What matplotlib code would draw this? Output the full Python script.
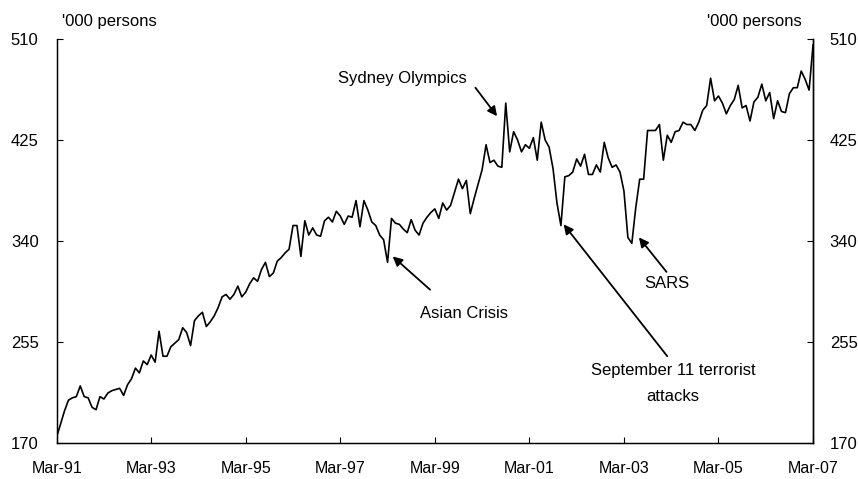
import numpy as np
import matplotlib
matplotlib.use("Agg")
import matplotlib.pyplot as plt

# Monthly short-term visitor arrivals, '000 persons, Mar-91 .. Mar-07
arrivals = [
    175, 186, 197, 206, 208, 209, 218, 209, 208, 200, 198, 209,
    207, 212, 214, 215, 216, 210, 219, 224, 233, 229, 239, 236,
    244, 238, 264, 243, 243, 251, 254, 257, 267, 263, 252, 273,
    277, 280, 268, 272, 277, 284, 293, 295, 291, 295, 302, 293,
    297, 304, 309, 306, 316, 322, 310, 313, 323, 326, 330, 333,
    353, 353, 327, 357, 345, 351, 345, 344, 357, 360, 356, 365,
    361, 354, 361, 360, 374, 352, 374, 366, 356, 353, 345, 341,
    322, 359, 355, 354, 350, 347, 358, 349, 345, 355, 360, 364,
    367, 359, 372, 366, 370, 381, 392, 384, 391, 363, 376, 388,
    400, 421, 406, 408, 403, 402, 456, 415, 432, 425, 415, 421,
    418, 427, 408, 440, 425, 419, 401, 372, 353, 394, 395, 398,
    409, 403, 413, 396, 396, 404, 398, 423, 410, 402, 404, 398,
    382, 343, 338, 368, 392, 392, 433, 433, 433, 438, 408, 429,
    423, 432, 433, 440, 438, 438, 433, 440, 450, 454, 477, 458,
    462, 456, 447, 454, 459, 471, 452, 454, 441, 457, 461, 472,
    458, 465, 443, 458, 449, 448, 464, 469, 469, 483, 476, 467,
    505,
]
months = np.arange(len(arrivals))

xtick_pos = [0, 24, 48, 72, 96, 120, 144, 168, 192]
xtick_labels = ["Mar-91", "Mar-93", "Mar-95", "Mar-97", "Mar-99",
                "Mar-01", "Mar-03", "Mar-05", "Mar-07"]
yticks = [170, 255, 340, 425, 510]

plt.rcParams['font.family'] = ['Liberation Sans', 'DejaVu Sans']
FS = 12

fig = plt.figure(figsize=(8.58, 4.79), dpi=100)
ax = fig.add_axes([0.066, 0.0752, 0.8816, 0.8434])

ax.plot(months, arrivals, color='black', lw=1.2)

ax.set_xlim(0, 192)
ax.set_ylim(170, 510)
ax.set_xticks(xtick_pos)
ax.set_xticklabels(xtick_labels, fontsize=11.5)
ax.set_yticks(yticks)
ax.tick_params(axis='y', direction='in', length=4, pad=13, labelsize=FS)
ax.tick_params(axis='x', direction='in', length=4, pad=13)
ax.spines['top'].set_visible(False)
for s in ['left', 'right', 'bottom']:
    ax.spines[s].set_linewidth(1.0)

ax2 = ax.twinx()
ax2.set_ylim(170, 510)
ax2.set_yticks(yticks)
ax2.tick_params(axis='y', direction='in', length=4, pad=12, labelsize=FS)
ax2.spines['top'].set_visible(False)
ax2.spines['right'].set_linewidth(1.0)

fig.text(0.072, 0.955, "'000 persons", fontsize=FS, ha='left', va='center')
fig.text(0.934, 0.955, "'000 persons", fontsize=FS, ha='right', va='center')

arrow = dict(arrowstyle='-|>', color='black', lw=1.3, mutation_scale=14,
             shrinkA=0, shrinkB=0)

# Sydney Olympics
ax.annotate("", xy=(111.8, 445), xytext=(106.3, 469), arrowprops=arrow)
ax.text(87.8, 477, "Sydney Olympics", fontsize=FS, ha='center', va='center')

# Asian Crisis
ax.annotate("", xy=(85.3, 327), xytext=(94.8, 299), arrowprops=arrow)
ax.text(103.5, 279, "Asian Crisis", fontsize=FS, ha='center', va='center')

# September 11
ax.annotate("", xy=(128.7, 354), xytext=(155.0, 243), arrowprops=arrow)
ax.text(156.5, 220, "September 11 terrorist\nattacks", fontsize=FS,
        ha='center', va='center', linespacing=1.85)

# SARS
ax.annotate("", xy=(147.8, 343), xytext=(154.8, 314), arrowprops=arrow)
ax.text(155.0, 304, "SARS", fontsize=FS, ha='center', va='center')

fig.savefig("out.png", dpi=100)
